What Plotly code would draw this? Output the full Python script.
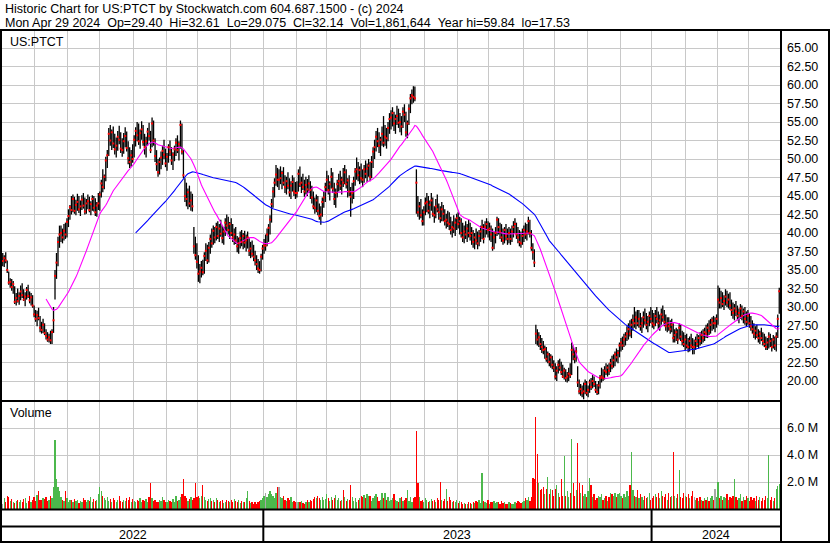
import numpy as np
import pandas as pd
import plotly.graph_objects as go

# ---------------- data ----------------
HIGH = [
 37.3,37.0,37.4,36.3,34.8,33.9,33.8,33.5,32.8,31.9,
 32.5,32.0,32.9,33.2,32.4,32.0,32.7,33.0,32.1,31.9,
 31.6,30.2,29.6,29.5,29.9,28.8,28.0,28.4,27.8,27.0,
 26.6,26.4,26.8,27.0,30.0,35.0,37.3,39.5,41.0,41.0,
 40.6,41.2,41.4,42.0,43.2,43.8,45.0,45.2,44.9,44.5,
 45.3,45.0,44.4,45.1,45.4,44.8,44.6,45.2,44.9,44.3,
 45.1,45.0,44.7,44.2,45.4,45.6,47.2,48.6,47.9,50.3,
 51.2,54.2,54.6,54.0,54.4,53.4,52.9,53.8,54.5,53.6,
 52.8,53.5,54.3,53.7,52.4,51.6,51.2,52.0,53.2,54.3,
 55.0,54.8,54.0,55.1,54.6,53.4,53.0,54.2,54.9,53.8,
 55.6,55.2,52.8,51.2,50.0,50.2,51.0,51.8,52.6,51.4,
 50.8,52.0,52.5,51.6,50.9,51.8,52.8,53.2,52.4,55.2,
 54.8,51.2,47.4,46.8,46.0,46.4,45.6,45.3,40.8,39.5,
 38.6,37.0,35.8,36.2,36.4,37.4,38.6,38.4,38.8,39.8,
 40.6,41.0,40.8,41.4,41.6,41.2,41.8,41.0,40.8,42.0,
 42.5,42.2,41.5,42.0,41.2,40.6,40.8,39.6,39.4,40.2,
 40.4,40.0,40.3,39.8,40.2,39.3,38.8,39.0,38.4,37.6,
 37.0,36.5,36.2,37.2,38.4,39.2,39.8,40.6,41.2,42.4,
 44.6,46.2,47.4,49.2,48.8,48.6,49.0,48.4,48.9,47.8,
 47.6,48.2,47.4,47.0,47.8,47.5,46.9,47.0,48.6,49.0,
 47.6,48.0,47.2,47.6,47.3,47.8,47.0,46.4,45.6,44.8,
 45.2,45.0,44.0,43.6,44.8,45.6,46.8,48.4,47.8,47.0,
 48.8,48.2,46.8,46.0,47.2,48.0,48.4,47.6,48.8,49.2,
 48.6,47.4,47.8,46.2,46.8,47.6,48.8,50.2,49.6,49.0,
 49.4,48.6,49.2,49.8,49.4,50.0,49.6,50.4,51.6,52.6,
 53.8,54.2,53.6,53.0,54.4,55.8,54.6,54.2,55.0,56.2,
 56.6,57.0,56.4,56.0,57.2,56.8,56.2,55.8,57.0,57.4,
 56.4,55.2,57.4,58.8,59.4,59.84,59.8,48.6,45.0,44.2,
 44.6,43.2,43.6,44.8,45.4,45.0,44.4,45.4,44.8,43.6,
 44.6,45.2,44.0,43.6,44.2,43.8,43.2,42.6,43.0,42.8,
 42.2,41.6,42.4,42.0,42.6,42.8,42.2,42.0,41.4,41.0,
 41.6,41.2,41.8,41.4,40.8,40.4,40.0,40.6,40.2,40.4,
 41.0,41.8,41.2,41.6,42.0,41.6,41.4,41.0,40.6,40.2,
 40.8,42.2,42.0,41.4,41.2,40.6,40.8,41.2,40.6,40.8,
 40.6,41.0,41.6,42.0,41.4,40.8,40.4,40.2,40.6,41.0,
 41.4,41.2,42.2,41.8,40.4,38.6,37.8,27.6,27.0,26.6,
 26.2,25.8,25.4,24.8,24.6,24.0,23.8,23.6,23.4,22.8,
 22.4,22.0,22.8,23.0,22.6,22.2,21.8,21.6,21.2,21.8,
 22.4,25.2,24.8,24.2,24.6,22.0,20.2,19.6,19.4,19.8,
 20.2,20.0,19.4,20.2,20.4,20.8,20.6,20.0,19.6,20.0,
 20.8,21.8,21.6,22.0,22.4,22.2,22.4,23.0,23.4,23.6,
 24.0,24.4,24.2,25.2,25.8,26.0,26.4,26.6,27.4,27.8,
 28.2,28.4,29.0,30.0,29.4,29.6,29.6,29.2,28.6,29.4,
 29.8,29.2,28.8,29.4,30.0,29.6,29.2,29.6,30.0,29.4,
 29.0,29.8,30.2,29.6,29.0,28.6,28.6,28.2,28.4,27.8,
 27.0,27.2,27.0,27.8,27.6,26.8,26.6,26.2,26.4,25.8,
 26.0,26.4,25.8,25.6,26.0,26.4,26.2,26.6,26.8,27.0,
 27.2,27.6,27.8,28.2,28.4,28.6,28.8,28.6,29.0,32.9,
 32.6,32.2,32.0,31.6,32.4,32.2,31.8,32.0,31.0,30.6,
 30.4,30.8,30.2,29.8,30.4,30.2,29.8,30.0,29.4,29.6,
 29.2,28.8,28.2,27.8,27.4,27.6,27.0,26.8,27.2,26.6,
 26.4,26.0,25.8,26.6,26.4,25.8,26.2,26.0,26.6,29.0,32.61,
]
LOW = [
 35.5,35.4,35.9,34.6,33.0,32.6,32.2,31.8,30.4,30.2,
 30.6,30.3,30.9,31.2,30.8,30.1,31.0,31.2,30.5,30.2,
 29.9,28.6,28.0,27.4,28.2,26.6,26.4,26.5,26.2,25.6,
 25.3,25.2,25.0,25.0,26.5,31.0,33.8,35.5,38.0,38.8,
 38.6,39.0,39.2,39.4,40.8,41.8,42.5,42.8,42.6,42.4,
 43.0,42.7,42.3,43.1,43.3,42.5,42.6,43.2,42.8,42.4,
 43.0,42.9,42.3,42.2,43.1,43.0,44.8,45.5,45.9,47.0,
 48.8,50.4,51.8,51.2,51.5,50.6,50.2,51.1,52.0,50.8,
 50.3,50.7,51.6,51.0,49.3,48.8,49.0,49.5,50.2,51.7,
 52.4,51.9,51.4,52.6,51.8,50.6,50.2,51.8,52.5,50.8,
 51.6,51.8,49.6,48.4,47.6,47.9,48.6,49.2,50.0,48.9,
 48.4,49.5,50.4,49.2,48.5,49.7,50.4,50.8,49.8,51.4,
 50.6,47.4,44.2,43.6,43.2,43.5,43.0,42.9,37.2,36.4,
 35.2,33.4,33.2,34.0,34.3,34.5,36.2,35.8,36.0,37.2,
 38.0,38.4,38.6,39.0,39.2,38.8,39.5,38.6,38.4,39.6,
 40.2,39.8,39.2,39.6,38.8,38.4,38.5,37.4,37.2,37.9,
 38.2,37.8,38.0,37.5,37.9,36.9,36.6,36.8,36.2,35.6,
 35.0,34.6,34.5,34.8,36.4,37.2,37.6,38.2,38.8,39.8,
 41.4,43.4,44.8,46.4,46.2,45.8,46.6,45.9,46.4,45.4,
 45.2,45.9,44.9,44.6,45.6,45.0,44.6,44.8,45.6,46.2,
 45.4,45.8,44.9,45.2,45.0,45.4,44.6,44.0,43.2,42.6,
 42.8,42.4,41.8,41.1,42.2,43.4,44.2,45.6,45.2,44.4,
 46.0,45.4,43.8,43.4,44.8,45.6,45.8,45.2,46.2,46.6,
 46.0,44.8,45.0,42.2,44.0,44.6,46.4,47.2,47.0,46.6,
 46.8,46.2,46.8,47.4,46.9,47.6,47.0,47.4,48.8,50.0,
 51.0,51.6,50.8,50.4,51.8,51.6,51.8,51.4,52.4,53.4,
 54.0,54.4,53.8,53.4,54.6,54.2,53.6,53.2,54.2,55.0,
 53.0,52.8,54.6,56.2,57.4,57.6,57.8,42.6,42.2,41.8,
 42.0,41.0,41.0,42.4,42.8,42.6,42.0,43.0,42.2,41.4,
 42.0,42.8,41.8,41.4,41.6,41.6,41.0,40.6,40.8,40.4,
 39.8,39.4,40.0,39.6,40.4,40.6,39.8,39.4,38.8,38.6,
 39.2,38.8,39.4,39.0,38.4,38.0,37.8,38.4,37.8,38.2,
 38.8,39.2,38.6,39.4,39.8,39.4,39.0,38.8,37.6,37.8,
 38.6,39.6,39.8,39.2,38.8,38.4,38.6,39.0,38.4,38.6,
 38.4,38.8,39.4,40.0,39.2,38.6,38.2,38.0,38.4,38.8,
 39.2,39.0,39.8,39.4,37.6,36.4,35.4,25.0,24.8,24.6,
 24.2,23.8,23.6,23.0,22.6,22.4,22.0,21.8,21.6,21.2,
 20.2,20.0,21.0,21.4,20.8,20.4,20.2,19.9,19.8,20.0,
 20.4,20.8,22.8,22.4,22.6,19.2,18.2,18.0,17.8,17.53,
 18.2,18.0,17.8,18.4,18.8,19.0,19.2,18.4,18.1,18.2,
 19.0,19.8,20.0,20.2,20.8,20.6,20.8,21.2,21.6,21.8,
 22.0,22.6,22.4,23.2,24.0,24.2,24.6,24.8,25.4,25.6,
 26.0,25.8,26.8,27.2,27.0,27.4,27.2,26.8,26.5,27.2,
 27.6,27.0,26.6,27.4,27.8,27.2,27.0,27.4,27.8,27.0,
 26.8,27.6,28.0,27.4,26.8,26.6,26.8,26.4,26.6,25.2,
 25.2,25.4,25.0,25.6,25.4,24.8,24.6,24.2,24.4,23.9,
 24.0,24.4,23.6,23.6,24.2,24.6,24.4,24.8,25.0,25.2,
 25.4,25.8,25.8,26.2,26.4,26.8,27.0,26.6,27.2,27.6,
 29.8,29.8,30.0,29.6,30.2,30.0,29.8,29.6,28.8,28.4,
 28.2,28.8,28.2,27.8,28.4,28.2,27.8,27.6,27.4,27.6,
 27.2,26.8,26.4,25.8,25.6,25.8,25.2,25.0,25.4,24.8,
 24.6,24.2,24.2,24.4,24.6,24.0,24.4,24.2,24.0,25.8,29.075,
]
CLOSE = [
 36.2,36.6,36.3,35.0,33.3,33.4,32.7,33.1,30.7,31.2,
 30.8,31.5,32.1,31.6,31.0,31.4,32.3,31.5,30.9,31.3,
 30.2,29.0,28.4,28.9,28.5,27.2,26.9,27.6,26.5,26.1,
 25.6,25.9,25.5,26.6,28.2,34.2,36.0,38.8,39.8,40.0,
 39.4,40.3,39.8,41.5,42.3,43.5,43.1,44.6,43.0,43.8,
 44.2,43.2,43.6,44.5,43.7,42.9,44.0,44.3,43.1,43.9,
 44.6,43.4,42.8,43.7,44.0,45.2,46.7,46.2,47.6,49.8,
 50.5,53.4,52.5,53.6,52.1,51.3,51.8,53.0,52.6,51.4,
 51.2,52.4,53.1,51.5,50.1,49.6,50.5,50.0,52.6,53.8,
 53.2,52.4,53.5,54.0,52.3,51.6,52.4,53.7,53.1,51.2,
 54.8,52.5,50.4,49.3,48.2,49.6,50.2,51.1,50.6,49.4,
 50.3,51.6,51.0,49.8,50.6,51.3,52.2,51.2,52.0,54.6,
 51.0,47.8,45.0,44.6,45.5,44.0,44.4,43.6,38.2,37.0,
 36.1,34.5,34.8,35.3,34.7,36.9,37.6,36.3,38.0,39.2,
 38.6,40.3,39.4,40.8,39.6,40.6,39.9,39.3,40.2,41.4,
 41.0,40.4,41.2,40.0,39.4,39.8,39.0,38.2,38.6,39.3,
 38.8,39.6,38.7,39.0,39.4,37.6,37.9,37.2,36.8,36.3,
 35.8,35.2,35.0,36.8,37.9,38.3,38.3,39.8,40.7,41.8,
 43.9,45.6,46.8,47.9,47.2,47.2,47.4,48.1,46.8,46.2,
 47.0,46.4,45.5,46.4,46.9,45.6,45.4,45.4,48.0,46.6,
 46.8,46.2,45.6,46.5,45.9,46.7,45.8,44.8,43.6,43.4,
 44.4,43.0,42.3,42.5,44.2,44.8,46.2,47.2,45.8,46.6,
 47.6,46.0,44.6,45.4,46.6,47.0,46.4,47.2,46.8,48.2,
 46.6,47.1,45.6,44.9,45.4,47.0,48.3,48.6,47.8,48.5,
 47.4,47.2,48.6,48.0,48.7,49.1,47.6,49.6,51.0,51.6,
 53.0,52.4,51.8,52.6,53.4,52.2,53.0,52.8,54.2,55.4,
 55.6,56.2,54.8,55.4,55.8,54.9,55.0,54.4,56.4,56.0,
 53.6,54.8,56.8,58.2,58.6,58.4,58.2,46.8,42.8,43.6,
 42.4,41.6,42.8,44.0,44.2,43.0,43.8,44.4,42.6,42.4,
 43.6,43.2,42.8,42.0,43.2,42.6,41.6,41.8,41.4,41.2,
 40.4,40.8,40.6,41.4,42.0,41.2,41.6,40.0,39.4,40.2,
 39.8,40.6,40.0,39.6,40.0,38.8,39.4,39.0,38.6,39.6,
 40.2,40.8,39.2,40.8,41.2,40.4,40.6,39.8,38.0,39.4,
 40.0,41.8,40.8,40.2,39.4,39.0,40.4,39.6,39.2,40.0,
 39.2,40.2,40.8,41.2,39.8,39.4,38.8,38.6,39.6,40.4,
 39.8,40.2,41.6,40.0,38.0,37.4,36.0,26.4,25.6,25.9,
 25.0,24.6,24.2,24.3,23.0,23.6,22.6,23.2,22.2,21.8,
 20.6,21.4,22.2,21.8,21.2,20.6,21.4,20.4,20.6,21.0,
 20.8,24.2,23.6,23.0,24.0,19.8,18.6,18.9,18.4,18.6,
 19.6,18.4,18.8,19.8,19.2,20.0,19.6,18.8,18.5,19.4,
 20.4,20.6,20.4,21.4,21.2,21.8,21.4,22.4,22.0,22.8,
 23.6,23.2,23.8,24.8,25.2,24.8,25.6,26.0,26.4,27.0,
 26.4,27.6,28.2,27.8,28.6,27.8,28.4,27.4,27.8,28.6,
 28.2,27.6,28.0,28.8,28.4,27.8,27.6,28.8,28.4,27.8,
 28.2,29.0,28.6,28.0,27.4,27.8,27.4,27.0,27.6,25.8,
 26.2,26.6,25.6,27.2,26.0,25.4,25.0,25.6,24.8,24.6,
 25.4,24.8,24.6,24.6,25.4,25.0,25.8,25.4,26.2,25.8,
 26.6,26.4,27.2,26.8,27.6,28.2,27.8,27.8,28.4,31.0,
 30.6,31.2,30.4,30.8,31.4,30.6,31.0,30.2,29.6,29.2,
 29.8,29.4,28.8,29.2,29.8,28.8,29.4,28.4,28.0,28.8,
 27.8,27.4,27.0,26.4,26.8,26.2,25.8,26.4,25.8,25.4,
 25.0,24.6,25.2,26.0,25.4,24.6,25.6,24.8,26.0,28.4,32.14,
]
VOLUME_M = [
 0.35,0.85,0.55,0.95,0.9,0.6,0.75,0.5,0.45,0.6,
 0.7,0.55,0.65,0.5,0.75,0.85,0.45,0.6,1.0,0.55,
 0.7,0.9,0.6,1.05,1.3,0.7,0.65,0.85,0.75,0.9,
 0.6,0.7,0.95,0.8,1.6,5.1,2.2,1.6,1.3,0.9,
 0.7,0.6,1.3,0.85,0.5,0.7,0.65,0.55,0.75,0.6,
 0.7,0.45,0.6,0.55,0.8,0.65,0.5,0.7,0.6,0.9,
 0.55,0.75,0.6,0.7,1.1,1.6,1.3,0.95,0.8,0.65,
 0.9,0.6,0.75,0.5,0.85,0.7,0.55,0.65,0.95,0.6,
 0.5,0.7,0.6,0.8,0.65,0.9,0.55,0.75,0.6,0.5,
 0.7,0.6,0.85,0.55,0.65,0.6,0.75,0.5,0.9,1.9,
 0.8,0.6,0.7,0.55,0.5,0.7,0.6,0.9,0.65,0.5,
 0.55,0.7,0.6,0.5,0.75,0.55,0.95,0.6,0.7,0.9,
 1.1,2.2,1.0,0.8,0.6,0.75,0.9,0.7,0.8,1.9,
 0.9,1.0,0.8,1.0,1.8,0.9,0.7,0.6,0.75,0.85,
 0.6,0.7,0.55,0.8,0.65,0.5,0.6,0.7,0.45,0.55,
 0.7,0.6,0.5,0.65,0.55,0.75,0.6,0.5,0.7,0.45,
 0.6,0.5,0.55,0.8,1.3,0.6,0.45,0.5,0.4,0.55,
 0.35,0.5,0.6,0.7,0.8,1.0,1.2,0.9,1.1,1.3,
 1.1,1.0,0.8,1.2,1.6,1.6,0.9,0.8,1.0,0.7,
 0.6,0.85,0.7,0.9,0.55,0.6,0.5,0.5,0.55,0.5,
 0.6,0.45,0.4,0.5,0.65,0.55,0.7,0.6,0.75,0.9,
 0.8,1.0,0.85,0.65,0.9,0.7,0.75,1.1,0.8,0.6,
 0.9,0.7,0.8,1.05,0.65,0.8,0.6,0.7,1.4,0.9,
 0.6,0.75,0.65,1.8,0.9,0.6,0.8,0.55,0.7,0.85,
 1.0,0.9,1.05,0.8,1.1,1.0,0.95,0.6,0.85,1.0,
 1.1,0.9,0.6,0.7,1.2,0.8,1.2,0.7,0.9,0.6,
 0.65,0.8,1.1,0.7,0.6,0.5,0.8,0.9,0.6,0.7,
 0.85,1.4,0.6,0.9,0.5,0.8,0.9,5.8,1.9,0.9,
 0.6,0.7,0.55,0.8,0.65,0.5,0.6,0.75,0.6,0.7,
 0.55,0.8,0.65,2.0,0.7,0.6,0.75,1.5,0.6,0.9,
 0.7,0.5,0.6,0.55,0.7,0.45,0.6,0.5,0.4,0.45,
 0.35,0.4,0.5,0.45,0.4,0.55,0.45,0.6,0.5,0.7,
 0.45,2.7,0.6,0.5,0.45,0.7,0.4,0.55,0.5,0.6,
 0.45,0.55,0.5,0.4,0.6,0.45,0.5,0.35,0.4,0.55,
 0.45,0.4,0.35,0.5,0.45,0.6,0.55,0.45,0.5,0.6,
 0.8,0.7,0.9,0.6,0.9,2.3,2.2,6.8,4.1,1.9,
 1.4,1.5,1.6,1.1,1.5,2.4,1.1,1.5,1.4,1.0,
 1.5,1.8,1.2,0.9,2.2,1.0,3.9,1.0,1.3,0.9,
 1.2,5.2,1.9,1.0,1.4,4.9,1.9,1.2,1.8,1.0,
 1.1,0.9,1.3,2.3,1.8,0.9,1.1,0.7,0.8,1.0,
 0.9,1.1,0.7,0.8,1.0,0.6,0.9,1.2,1.1,1.0,
 1.2,0.9,1.1,1.2,1.0,0.8,1.1,0.9,1.3,1.0,
 1.8,4.2,1.4,1.0,0.9,1.4,0.8,1.1,0.9,0.7,
 1.0,0.8,0.9,1.2,0.7,0.8,1.0,1.1,0.9,1.2,
 0.8,1.3,1.0,0.9,1.1,0.7,1.2,0.9,1.0,4.2,
 1.0,0.8,1.1,2.9,0.9,0.8,1.2,1.0,0.9,1.1,
 0.8,1.0,1.3,0.9,0.7,0.8,0.6,0.9,0.7,0.6,
 0.8,0.7,0.9,0.6,0.8,1.0,0.7,1.5,0.9,2.0,
 0.8,1.0,0.7,0.9,0.8,1.1,0.7,0.9,0.8,1.0,
 2.2,0.9,0.7,0.8,1.1,0.6,0.9,0.7,1.0,0.8,
 0.6,0.9,0.7,0.8,0.6,1.0,0.7,0.9,0.6,0.8,
 0.7,1.0,0.8,4.0,0.7,0.9,0.6,0.8,1.5,1.7,1.86,
]
PRICE_TICKS = [20.0, 22.5, 25.0, 27.5, 30.0, 32.5, 35.0, 37.5, 40.0, 42.5,
               45.0, 47.5, 50.0, 52.5, 55.0, 57.5, 60.0, 62.5, 65.0]
VOLUME_TICKS = [2.0e6, 4.0e6, 6.0e6]
VOLUME_TICK_TEXT = ["2.0 M", "4.0 M", "6.0 M"]
MA_SHORT, MA_LONG = 30, 90
SYMBOL = "US:PTCT"
HEADER_1 = "Historic Chart for US:PTCT by Stockwatch.com 604.687.1500 - (c) 2024"
HEADER_2 = ("Mon Apr 29 2024\u00a0\u00a0Op=29.40\u00a0\u00a0Hi=32.61\u00a0\u00a0Lo=29.075"
            "\u00a0\u00a0Cl=32.14\u00a0\u00a0Vol=1,861,644\u00a0\u00a0Year hi=59.84\u00a0\u00a0lo=17.53")

# ---------------- derived ----------------
n = min(len(HIGH), len(LOW), len(CLOSE), len(VOLUME_M))
HIGH, LOW, CLOSE, VOLUME_M = HIGH[:n], LOW[:n], CLOSE[:n], VOLUME_M[:n]
dates = pd.bdate_range(end="2024-04-29", periods=n)
idx = np.arange(n)
close_s = pd.Series(CLOSE)
ma_s = close_s.rolling(MA_SHORT).mean()
ma_l = close_s.rolling(MA_LONG).mean()
volume = [v * 1e6 for v in VOLUME_M]

GREEN, RED, GREY = "#4cb84c", "#ff0000", "#a8a8a8"
vcolors = [GREY]
for i in range(1, n):
    d = CLOSE[i] - CLOSE[i - 1]
    vcolors.append(GREEN if d > 0 else (RED if d < 0 else GREY))

mkey = dates.year * 12 + dates.month
month_starts = [i for i in range(1, n) if mkey[i] != mkey[i - 1]]
year_starts = [i for i in range(1, n) if dates.year[i] != dates.year[i - 1]]
bounds = [-0.5] + [s - 0.5 for s in year_starts] + [n - 0.5]
years = [dates.year[0]] + [dates.year[s] for s in year_starts]

hx, hy = [], []
for i in range(n):
    hx += [i, i, None]
    hy += [LOW[i], HIGH[i], None]

FONT = "Liberation Sans, Arial, Helvetica, sans-serif"
GRID = "#c8c8c8"

fig = go.Figure()
fig.add_trace(go.Scatter(x=hx, y=hy, mode="lines", line=dict(color="black", width=1.3),
                         hoverinfo="skip", xaxis="x", yaxis="y"))
fig.add_trace(go.Scatter(x=idx, y=ma_l, mode="lines", line=dict(color="#0000ff", width=1.1),
                         xaxis="x", yaxis="y"))
fig.add_trace(go.Scatter(x=idx, y=ma_s, mode="lines", line=dict(color="#ff00ff", width=1.1),
                         xaxis="x", yaxis="y"))
fig.add_trace(go.Scatter(x=idx, y=CLOSE, mode="markers",
                         marker=dict(color="#ff0000", size=2, symbol="square", line=dict(width=0)),
                         xaxis="x", yaxis="y"))
fig.add_trace(go.Bar(x=idx, y=volume, marker=dict(color=vcolors, line=dict(width=0)),
                     width=0.85, xaxis="x2", yaxis="y2"))

# pixel helpers for the frame (plot area: x 2..780, y 31..509)
def pxx(p):
    return (p - 2) / 778.0

def pxy(p):
    return (509 - p) / 478.0

split = pxy(401)
xaxis_common = dict(range=[-0.5, n - 0.5], tickvals=[m - 0.5 for m in month_starts],
                    showticklabels=False, showgrid=True, gridcolor=GRID, gridwidth=1,
                    zeroline=False, ticks="", showline=False, fixedrange=True)
fig.update_layout(
    width=830, height=543, margin=dict(l=2, r=50, t=31, b=34, pad=0),
    paper_bgcolor="white", plot_bgcolor="white", showlegend=False, bargap=0,
    font=dict(family=FONT, size=12, color="black"),
    xaxis=dict(domain=[0, 1], anchor="y", **xaxis_common),
    xaxis2=dict(domain=[0, 1], anchor="y2", **xaxis_common),
    yaxis=dict(domain=[split, 1], anchor="x", side="right",
               range=[20 - 20 / 7.4, 65 + 17 / 7.4],
               tickvals=PRICE_TICKS, ticktext=[f"{v:.2f}" for v in PRICE_TICKS],
               showgrid=True, gridcolor=GRID, gridwidth=1, zeroline=False, ticks="",
               ticklabelstandoff=6, tickfont=dict(size=12.5), fixedrange=True),
    yaxis2=dict(domain=[0, split], anchor="x2", side="right", range=[0, 8.0e6],
                tickvals=VOLUME_TICKS, ticktext=VOLUME_TICK_TEXT,
                showgrid=True, gridcolor=GRID, gridwidth=1, zeroline=False, ticks="",
                ticklabelstandoff=6, tickfont=dict(size=12.5), fixedrange=True),
)

shapes = []
def hline(y, x0, x1, w=2):
    shapes.append(dict(type="line", xref="paper", yref="paper", x0=pxx(x0), x1=pxx(x1),
                       y0=pxy(y), y1=pxy(y), line=dict(color="black", width=w), layer="above"))
def vline(x, y0, y1, w=2):
    shapes.append(dict(type="line", xref="paper", yref="paper", x0=pxx(x), x1=pxx(x),
                       y0=pxy(y0), y1=pxy(y1), line=dict(color="black", width=w), layer="above"))

hline(30, 0, 830)
hline(401, 0, 781)
hline(509.5, 0, 781)
hline(526.5, 0, 781)
hline(542, 0, 830)
vline(1, 30, 543)
vline(781, 30, 543)
vline(829, 30, 543)
for s in year_starts:
    shapes.append(dict(type="line", xref="x2", yref="paper", x0=s - 0.5, x1=s - 0.5,
                       y0=pxy(509), y1=pxy(542), line=dict(color="black", width=2), layer="above"))
fig.update_layout(shapes=shapes)

ann = [
    dict(text=HEADER_1, x=pxx(3), y=pxy(9), xanchor="left", yanchor="middle"),
    dict(text=HEADER_2, x=pxx(3), y=pxy(23), xanchor="left", yanchor="middle"),
    dict(text=SYMBOL, x=pxx(8), y=pxy(42), xanchor="left", yanchor="middle"),
    dict(text="Volume", x=pxx(8), y=pxy(413), xanchor="left", yanchor="middle"),
]
for a in ann:
    a.update(xref="paper", yref="paper", showarrow=False, font=dict(size=12.5, color="black"))
for k, yr in enumerate(years):
    ann.append(dict(text=str(yr), x=(bounds[k] + min(bounds[k + 1], n - 0.5)) / 2, xref="x2",
                    y=pxy(534.5), yref="paper", xanchor="center", yanchor="middle",
                    showarrow=False, font=dict(size=12.5, color="black")))
fig.update_layout(annotations=ann)

fig.write_html("out.html", config={"displayModeBar": False, "staticPlot": True},
               post_script="document.body.style.margin='0px';"
               "document.body.style.overflow='hidden';")
